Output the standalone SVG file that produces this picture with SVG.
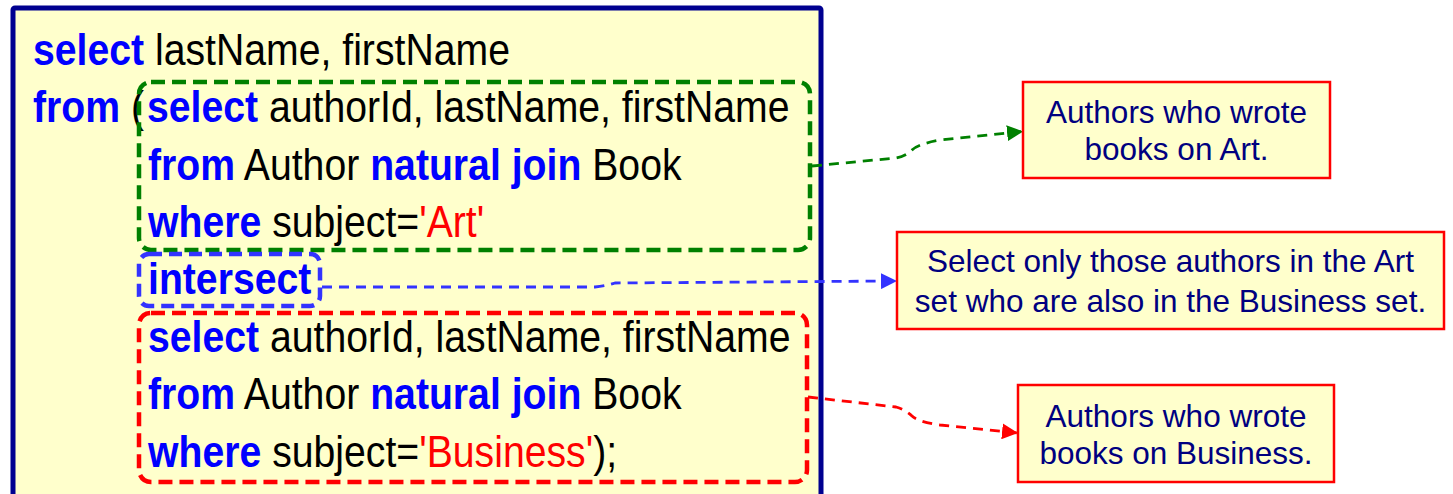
<svg xmlns="http://www.w3.org/2000/svg" width="1453" height="494" viewBox="0 0 1453 494">
<style>
.code{font-family:"Liberation Sans",Arial,sans-serif;font-size:45px;fill:#000}
.kw{font-weight:bold;fill:#0000FF}
.str{fill:#FF0000}
.note{font-family:"Liberation Sans",Arial,sans-serif;font-size:31.5px;fill:#000080;text-anchor:middle}
.notebox{fill:#FFFFCC;stroke:#FF0000;stroke-width:2.5}
.conn{fill:none;stroke-width:2.8;stroke-dasharray:10 7}
</style>
<defs>
<marker id="ag" markerWidth="16" markerHeight="16" refX="16" refY="8" orient="auto" markerUnits="userSpaceOnUse"><path d="M0,0 L16,8 L0,16 Z" fill="#008000"/></marker>
<marker id="ab" markerWidth="16" markerHeight="16" refX="16" refY="8" orient="auto" markerUnits="userSpaceOnUse"><path d="M0,0 L16,8 L0,16 Z" fill="#3333FF"/></marker>
<marker id="ar" markerWidth="16" markerHeight="16" refX="16" refY="8" orient="auto" markerUnits="userSpaceOnUse"><path d="M0,0 L16,8 L0,16 Z" fill="#FF0000"/></marker>
</defs>
<rect width="1453" height="494" fill="#FFFFFF"/>

<g id="query">
<rect x="13" y="8" width="808" height="500" rx="2" fill="#FFFFCC" stroke="#000090" stroke-width="5"/>
<text class="code" transform="translate(33,65) scale(0.871,1)"><tspan class="kw">select</tspan> lastName, firstName</text>
<text class="code" transform="translate(33,122) scale(0.871,1)"><tspan class="kw">from</tspan> (</text>
</g>

<g id="art-subquery">
<rect x="139" y="82" width="671" height="168" rx="12" fill="none" stroke="#008000" stroke-width="4.5" stroke-dasharray="14 7"/>
<text class="code" transform="translate(147,122) scale(0.871,1)"><tspan class="kw">select</tspan> authorId, lastName, firstName</text>
<text class="code" transform="translate(148,180) scale(0.871,1)"><tspan class="kw">from</tspan> Author <tspan class="kw">natural join</tspan> Book</text>
<text class="code" transform="translate(148,237) scale(0.871,1)"><tspan class="kw">where</tspan> subject=<tspan class="str">'Art'</tspan></text>
</g>

<g id="intersect">
<rect x="139" y="254" width="181" height="52" rx="10" fill="none" stroke="#3333FF" stroke-width="4.5" stroke-dasharray="13 7"/>
<text class="code" transform="translate(148,294) scale(0.871,1)"><tspan class="kw">intersect</tspan></text>
</g>

<g id="business-subquery">
<rect x="139" y="313" width="668" height="169" rx="12" fill="none" stroke="#FF0000" stroke-width="4.5" stroke-dasharray="14 7"/>
<text class="code" transform="translate(148,352) scale(0.871,1)"><tspan class="kw">select</tspan> authorId, lastName, firstName</text>
<text class="code" transform="translate(148,409) scale(0.871,1)"><tspan class="kw">from</tspan> Author <tspan class="kw">natural join</tspan> Book</text>
<text class="code" transform="translate(148,467) scale(0.871,1)"><tspan class="kw">where</tspan> subject=<tspan class="str">'Business'</tspan>);</text>
</g>

<g id="connectors">
<path class="conn" stroke="#008000" d="M812,166 L896,158 Q906,156 912,150 Q918,144 940,140 L1023,131.5" marker-end="url(#ag)"/>
<path class="conn" stroke="#3333FF" d="M322,287 L595,287 Q606,286 615,283 L897,281" marker-end="url(#ab)"/>
<path class="conn" stroke="#FF0000" d="M808,397 L896,407 Q906,410 912,416 Q918,422 940,425 L1018,433" marker-end="url(#ar)"/>
</g>

<g id="note-art">
<rect class="notebox" x="1023" y="82" width="307" height="96"/>
<text class="note" x="1176.5" y="123">Authors who wrote</text>
<text class="note" x="1176.5" y="160">books on Art.</text>
</g>

<g id="note-intersect">
<rect class="notebox" x="897" y="232" width="547" height="97"/>
<text class="note" x="1170.5" y="272">Select only those authors in the Art</text>
<text class="note" x="1170.5" y="312">set who are also in the Business set.</text>
</g>

<g id="note-business">
<rect class="notebox" x="1018" y="385" width="316" height="97"/>
<text class="note" x="1176" y="427">Authors who wrote</text>
<text class="note" x="1176" y="464">books on Business.</text>
</g>
</svg>
